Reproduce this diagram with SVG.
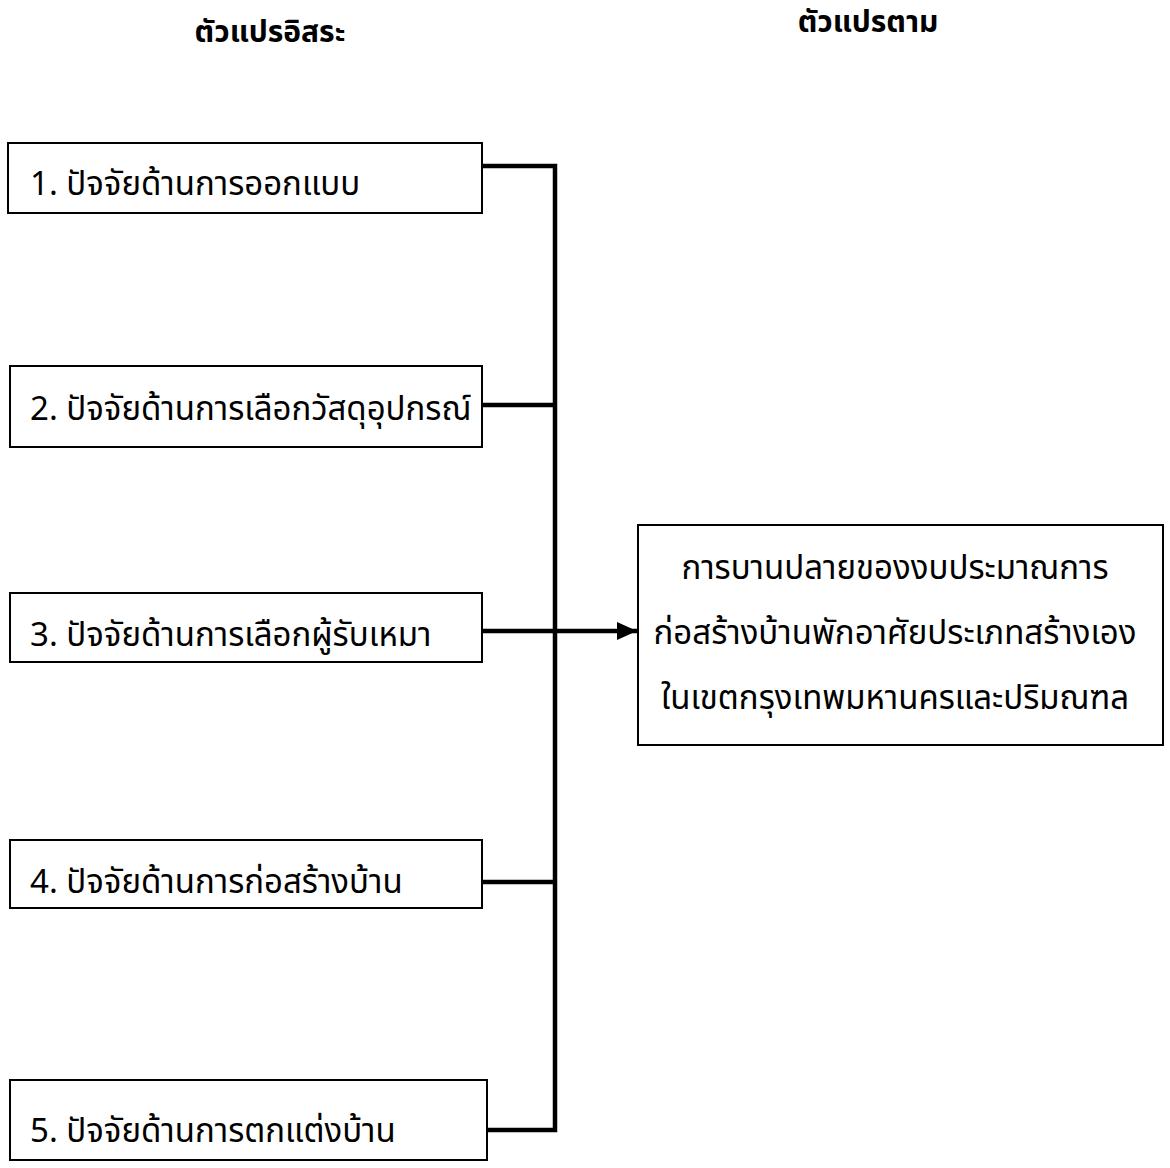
<svg xmlns="http://www.w3.org/2000/svg" width="1170" height="1168" viewBox="0 0 1170 1168">
<style>
.box{fill:#fff;stroke:#000;stroke-width:2}
.t{font-family:"Noto Sans Thai","Tahoma","Liberation Sans","Noto Sans",sans-serif;font-size:33px;fill:#000}
.h{font-family:"Noto Sans Thai","Tahoma","Liberation Sans","Noto Sans",sans-serif;font-size:30px;font-weight:bold;fill:#000}
.c{fill:none;stroke:#000;stroke-width:4.5}
</style>
<defs>
<marker id="arr" markerWidth="20" markerHeight="20" refX="20" refY="10" orient="auto" markerUnits="userSpaceOnUse" viewBox="0 0 20 20">
<path d="M0,1 L20,10 L0,19 Z" fill="#000"/>
</marker>
</defs>
<rect width="1170" height="1168" fill="#fff"/>
<text class="h" x="270" y="42" text-anchor="middle">ตัวแปรอิสระ</text>
<text class="h" x="868" y="32" text-anchor="middle">ตัวแปรตาม</text>
<g id="connectors">
<polyline class="c" points="482,166 555,166 555,1130 487,1130"/>
<line class="c" x1="482" y1="405" x2="555" y2="405"/>
<line class="c" x1="482" y1="882" x2="555" y2="882"/>
<line class="c" x1="482" y1="631" x2="637" y2="631" marker-end="url(#arr)"/>
</g>
<g id="n1"><rect class="box" x="8" y="143" width="474" height="70"/><text class="t" x="30" y="195">1. ปัจจัยด้านการออกแบบ</text></g>
<g id="n2"><rect class="box" x="10" y="366" width="472" height="81"/><text class="t" x="30" y="420">2. ปัจจัยด้านการเลือกวัสดุอุปกรณ์</text></g>
<g id="n3"><rect class="box" x="10" y="593" width="472" height="69"/><text class="t" x="30" y="646">3. ปัจจัยด้านการเลือกผู้รับเหมา</text></g>
<g id="n4"><rect class="box" x="10" y="840" width="472" height="68"/><text class="t" x="30" y="893">4. ปัจจัยด้านการก่อสร้างบ้าน</text></g>
<g id="n5"><rect class="box" x="10" y="1080" width="477" height="80"/><text class="t" x="30" y="1142">5. ปัจจัยด้านการตกแต่งบ้าน</text></g>
<g id="n6"><rect class="box" x="638" y="525" width="525" height="220"/>
<text class="t" x="895" y="579" text-anchor="middle">การบานปลายของงบประมาณการ</text>
<text class="t" x="895" y="644" text-anchor="middle">ก่อสร้างบ้านพักอาศัยประเภทสร้างเอง</text>
<text class="t" x="895" y="709" text-anchor="middle">ในเขตกรุงเทพมหานครและปริมณฑล</text>
</g>
</svg>
